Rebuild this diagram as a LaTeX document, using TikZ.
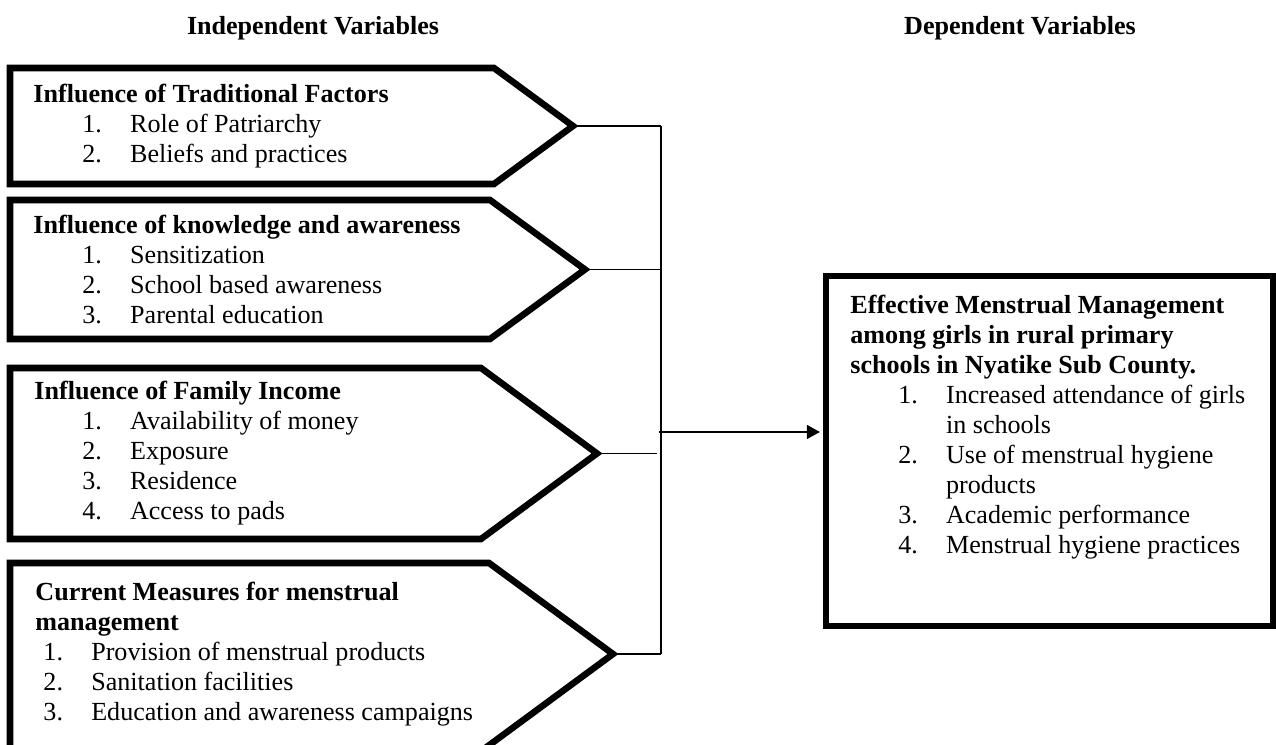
\documentclass[tikz,border=0pt]{standalone}
\usepackage{fontspec}
\setmainfont{Liberation Serif}
\usetikzlibrary{arrows.meta}
\newcommand{\numitem}[3]{\hspace*{#1}\makebox[22pt][l]{#2}#3}

\begin{document}
\begin{tikzpicture}
  [%
 x=0.46pt, y=-0.46pt,
 frame/.style={
  line width=3pt,
  line join=miter},
 link/.style={
  line width=0.8pt},
 varlist/.style={
  align=left,
  inner sep=0pt,
  anchor=west,
  font=\fontsize{12}{13.8}\selectfont},
 heading/.style={
  inner sep=0pt,
  font=\fontsize{12}{13.8}\selectfont\bfseries},
 tip/.style={-{Triangle[length=6pt,width=6.4pt]}}]
\useasboundingbox (0,0) rectangle (1276,745);
\node (indep) [heading] at (313,28) {Independent Variables};
\node (depend) [heading] at (1020,28) {Dependent Variables};
% independent variable arrows
\draw[frame] (10,68) -- (494,68) -- (573,126) -- (494,184) -- (10,184) -- cycle;
\draw[frame] (10,200) -- (490,200) -- (585,269.5) -- (490,339) -- (10,339) -- cycle;
\draw[frame] (10,368) -- (481,368) -- (597,453.5) -- (481,539) -- (10,539) -- cycle;
\draw[frame] (10,563) -- (489,563) -- (613,654) -- (484,749) -- (10,749) -- cycle;
\coordinate (tradtip) at (573,126);
\coordinate (knowtip) at (585,269.5);
\coordinate (incometip) at (597,453.5);
\coordinate (measuretip) at (613,654);
\node (trad) [varlist] at (33,126) {\textbf{Influence of Traditional Factors}\\
 \numitem{22.5pt}{1.}{Role of Patriarchy}\\
 \numitem{22.5pt}{2.}{Beliefs and practices}};
\node (know) [varlist] at (33,270) {\textbf{Influence of knowledge and awareness}\\
 \numitem{22.5pt}{1.}{Sensitization}\\
 \numitem{22.5pt}{2.}{School based awareness}\\
 \numitem{22.5pt}{3.}{Parental education}};
\node (income) [varlist] at (34,453) {\textbf{Influence of Family Income}\\
 \numitem{22pt}{1.}{Availability of money}\\
 \numitem{22pt}{2.}{Exposure}\\
 \numitem{22pt}{3.}{Residence}\\
 \numitem{22pt}{4.}{Access to pads}};
\node (measure) [varlist] at (35,654) {\textbf{Current Measures for menstrual}\\
 \textbf{management}\\
 \numitem{3.7pt}{1.}{Provision of menstrual products}\\
 \numitem{3.7pt}{2.}{Sanitation facilities}\\
 \numitem{3.7pt}{3.}{Education and awareness campaigns}};
% dependent variable box
\node (dep) [frame, draw, inner sep=0pt, minimum width=205.5pt, minimum height=160.8pt] at (1049.6,451) {};
\node (deptext) [varlist, anchor=north west] at (850,295) {\textbf{Effective Menstrual Management}\\
 \textbf{among girls in rural primary}\\
 \textbf{schools in Nyatike Sub County.}\\
 \numitem{22pt}{1.}{Increased attendance of girls}\\
 \hspace*{44pt}in schools\\
 \numitem{22pt}{2.}{Use of menstrual hygiene}\\
 \hspace*{44pt}products\\
 \numitem{22pt}{3.}{Academic performance}\\
 \numitem{22pt}{4.}{Menstrual hygiene practices}};
% connectors
\coordinate (bustop) at (661,126);
\coordinate (busbottom) at (661,654);
\coordinate (busout) at (661,432);
\draw[link] (tradtip) -- (bustop);
\draw[link] (knowtip) -- (bustop |- knowtip);
\draw[link, shorten >=1.8pt] (incometip) -- (bustop |- incometip);
\draw[link] (measuretip) -- (busbottom);
\draw[link] (bustop) -- (busbottom);
\draw[link, tip, shorten >=1.4pt] ([xshift=-1pt]busout) -- (busout -| dep.west);
\end{tikzpicture}
\end{document}
